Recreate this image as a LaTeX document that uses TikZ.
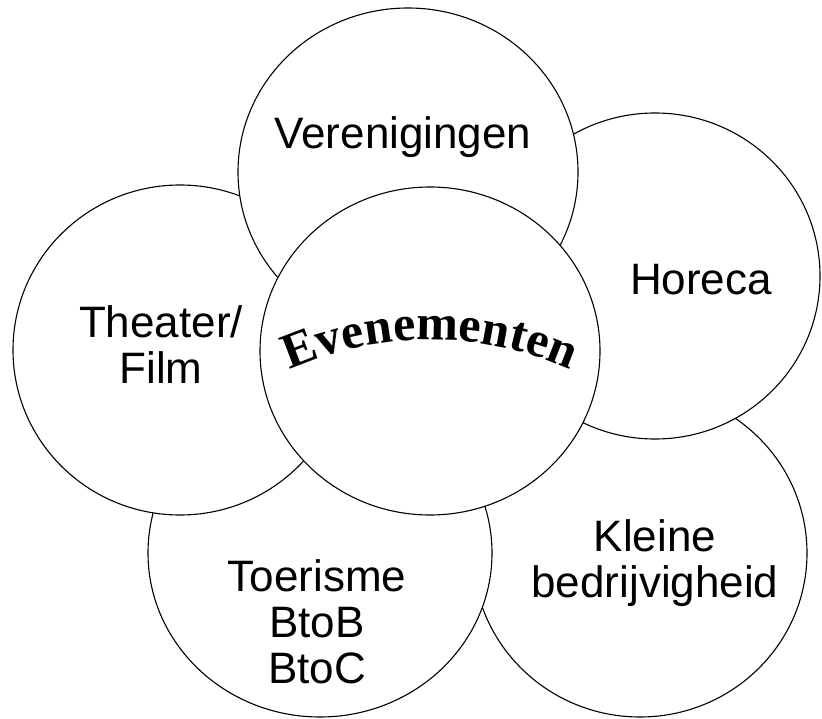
\documentclass[tikz,border=0pt]{standalone}
\usepackage{fontspec}
\setmainfont{Liberation Sans}
\newfontfamily\archfont{Liberation Serif}
\usetikzlibrary{shapes.geometric,decorations.text}
\tikzset{
  petal/.style={ellipse, draw, line width=1.1pt, fill=white, inner sep=0pt},
  lbl/.style={align=center, font=\fontsize{44}{46}\selectfont}
}
\begin{document}
\begin{tikzpicture}[x=1pt,y=-1pt]
\useasboundingbox (0,0) rectangle (822,719);

\node[petal, minimum width=334pt, minimum height=328pt] (kleine) at (640,553) {};
\node[petal, minimum width=344pt, minimum height=328pt] (toerisme) at (320,553) {};
\node[petal, minimum width=330pt, minimum height=326pt] (horeca) at (655,276) {};
\node[petal, minimum width=334pt, minimum height=330pt] (theater) at (180,350) {};
\node[petal, minimum width=340pt, minimum height=328pt] (vereniging) at (408,172) {};
\node[petal, minimum width=340pt, minimum height=328pt] (evenement) at (430,351) {};

\node[lbl] (tvereniging) at (403,137) {Verenigingen};
\node[lbl] (thoreca) at (701,280) {Horeca};
\node[lbl] (ttheater) at (161,345) {Theater/\\Film};
\node[lbl] (ttoerisme) at (317,622) {Toerisme\\BtoB\\BtoC};
\node[lbl] (tkleine) at (655,563) {Kleine\\bedrijvigheid};

\path[decorate, decoration={text along path, text align=center,
  text={|\archfont\bfseries\fontsize{50}{50}\selectfont|Evenementen}}]
  (430,690) ++(-114:350) arc[start angle=-114, end angle=-66, radius=350];
\end{tikzpicture}
\end{document}
